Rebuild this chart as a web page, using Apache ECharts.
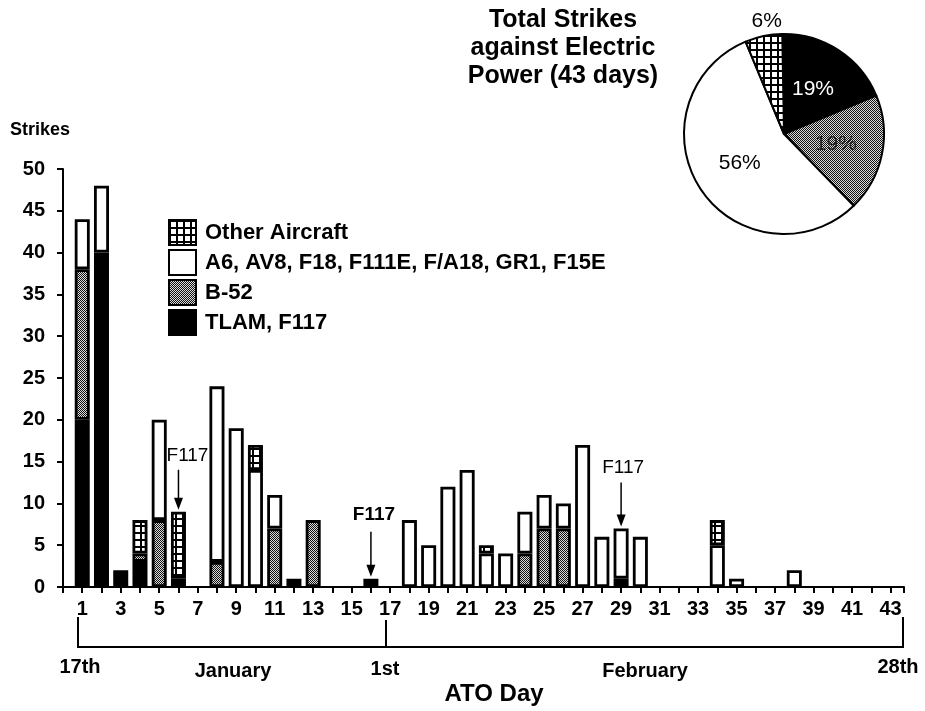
<!DOCTYPE html>
<html><head><meta charset="utf-8">
<script src="https://cdn.jsdelivr.net/npm/echarts@6/dist/echarts.min.js"></script>
<style>html,body{margin:0;padding:0;background:#fff}#c{width:925px;height:711px}</style>
</head><body><div id="c"></div>
<script>
// ---------- data ----------
const days = [1,2,3,4,5,6,7,8,9,10,11,12,13,14,15,16,17,18,19,20,21,22,23,24,25,26,27,28,29,30,31,32,33,34,35,36,37,38,39,40,41,42,43];
const tlamF117 = [20,40,2,3,0,1,0,0,0,0,0,1,0,0,0,1,0,0,0,0,0,0,0,0,0,0,0,0,1,0,0,0,0,0,0,0,0,0,0,0,0,0,0];
const b52      = [18,0,0,1,8,0,0,3,0,0,7,0,8,0,0,0,0,0,0,0,0,0,0,4,7,7,0,0,0,0,0,0,0,0,0,0,0,0,0,0,0,0,0];
const tactical = [6,8,0,0,12,0,0,21,19,14,4,0,0,0,0,0,0,8,5,12,14,4,4,5,4,3,17,6,6,6,0,0,0,5,1,0,0,2,0,0,0,0,0];
const otherAc  = [0,0,0,4,0,8,0,0,0,3,0,0,0,0,0,0,0,0,0,0,0,1,0,0,0,0,0,0,0,0,0,0,0,3,0,0,0,0,0,0,0,0,0];
const seriesNames = ['TLAM, F117','B-52','A6, AV8, F18, F111E, F/A18, GR1, F15E','Other Aircraft'];
const legendOrder = ['Other Aircraft','A6, AV8, F18, F111E, F/A18, GR1, F15E','B-52','TLAM, F117'];
const piePercent = [19,19,56,6];           // TLAM/F117, B-52, tactical, other
const yTicks = [0,5,10,15,20,25,30,35,40,45,50];
const annotDays = [6,16,29];
const annotText = ['F117','F117','F117'];
const pieTitle = ['Total Strikes','against Electric','Power (43 days)'];
const periodLabels = ['17th','January','1st','February','28th'];

// ---------- patterns ----------
function grayPat(){const c=document.createElement('canvas');c.width=c.height=2;const x=c.getContext('2d');
  x.fillStyle='#dcdcdc';x.fillRect(0,0,2,2);x.fillStyle='#111';x.fillRect(0,0,1,1);x.fillRect(1,1,1,1);return c;}
function gridPat(){const c=document.createElement('canvas');c.width=c.height=7;const x=c.getContext('2d');
  x.fillStyle='#fff';x.fillRect(0,0,7,7);x.fillStyle='#000';x.fillRect(0,0,7,2);x.fillRect(0,0,2,7);return c;}
const fills = ['#000',{image:grayPat(),repeat:'repeat'},'#fff',{image:gridPat(),repeat:'repeat'}];
const seriesData = [tlamF117,b52,tactical,otherAc];

const FONT = '"Liberation Sans", Arial, Helvetica, sans-serif';
const chart = echarts.init(document.getElementById('c'), null, {renderer:'canvas'});

// value first so that the stacked dimension is the strike count
const barSeries = seriesData.map((arr,si)=>({
  type:'bar', name:seriesNames[si], stack:'s', barWidth:15,
  encode:{x:1, y:0},
  data: days.map((d,i)=>[arr[i] === 0 ? null : arr[i], d]),
  itemStyle:{color:fills[si], borderColor:'#000', borderWidth:2.8},
  emphasis:{disabled:true}, silent:true
}));

const pieSeries = {
  type:'pie', center:[784,134], radius:100, startAngle:91, clockwise:true,
  avoidLabelOverlap:false, silent:true, emphasis:{disabled:true},
  itemStyle:{borderColor:'#000', borderWidth:2},
  label:{show:true, position:'inside', formatter:'{c}%', fontFamily:FONT, fontSize:21, color:'#000'},
  labelLine:{show:false},
  labelLayout: p => p.dataIndex === 3 ? {x: p.rect.x + p.rect.width/2 + 2, y: p.rect.y - 12, align:'center', verticalAlign:'middle'} : {},
  data: piePercent.map((v,i)=>({
    value:v, name:seriesNames[i],
    itemStyle:{color:fills[i]},
    label: i===0 ? {color:'#fff'} : (i===1 ? {color:'#222'} : (i===3 ? {position:'outside'} : {})),
    labelLine: i===3 ? {show:false, length:4, length2:0} : undefined
  }))
};

chart.setOption({
  animation:false,
  backgroundColor:'#fff',
  grid:{left:63, top:169, width:841, height:418, containLabel:false},
  xAxis:{type:'value', min:0, max:43.7, interval:1,
    axisLine:{show:true, onZero:false, lineStyle:{color:'#000', width:2}},
    axisTick:{show:true, length:6, inside:false, lineStyle:{color:'#000', width:2}},
    axisLabel:{margin:12, color:'#000', fontFamily:FONT, fontWeight:'bold', fontSize:20,
      formatter: v => (Number.isInteger(v) && v % 2 === 1) ? String(v) : ''},
    splitLine:{show:false}},
  yAxis:{type:'value', min:yTicks[0], max:yTicks[yTicks.length-1], interval:yTicks[1]-yTicks[0],
    axisLine:{show:true, lineStyle:{color:'#000', width:2}},
    axisTick:{show:true, length:6, lineStyle:{color:'#000', width:2}},
    axisLabel:{margin:18, color:'#000', fontFamily:FONT, fontWeight:'bold', fontSize:20},
    splitLine:{show:false}},
  legend:{data:legendOrder, orient:'vertical', left:163, top:214, itemWidth:27, itemHeight:25, itemGap:3,
    selectedMode:false, icon:'rect',
    textStyle:{color:'#000', fontFamily:FONT, fontWeight:'bold', fontSize:22, padding:[0,0,0,4]}},
  series:[...barSeries, pieSeries]
});

// ---------- decorations ----------
const gfx = [];
gfx.push({type:'text', x:10, y:130, style:{text:'Strikes', font:'bold 18px '+FONT, fill:'#000', align:'left', verticalAlign:'middle'}});
pieTitle.forEach((t,i)=>gfx.push({type:'text', x:563, y:20+i*28, style:{text:t, font:'bold 25px '+FONT, fill:'#000', align:'center', verticalAlign:'middle'}}));
// bracket under the axis
gfx.push({type:'polyline', shape:{points:[[78,617],[78,647],[903,647],[903,617]]}, style:{stroke:'#000', lineWidth:2, fill:null}});
gfx.push({type:'line', shape:{x1:386,y1:620,x2:386,y2:647}, style:{stroke:'#000', lineWidth:2}});
const plPos = [[80,667],[233,671],[385,669],[645,671],[898,667]];
periodLabels.forEach((t,i)=>gfx.push({type:'text', x:plPos[i][0], y:plPos[i][1], style:{text:t, font:'bold 20px '+FONT, fill:'#000', align:'center', verticalAlign:'middle'}}));
gfx.push({type:'text', x:494, y:694, style:{text:'ATO Day', font:'bold 24px '+FONT, fill:'#000', align:'center', verticalAlign:'middle'}});
// F117 annotations
const annotStyle = [{len:42, ty:56, tx:9, bold:false},{len:47, ty:64, tx:3, bold:true},{len:46, ty:61, tx:2, bold:false}];
annotDays.forEach((d,k)=>{
  const i = days.indexOf(d);
  const total = tlamF117[i]+b52[i]+tactical[i]+otherAc[i];
  const p = chart.convertToPixel({gridIndex:0}, [d, total]);
  const s = annotStyle[k];
  gfx.push({type:'line', shape:{x1:p[0], y1:p[1]-s.len, x2:p[0], y2:p[1]-12}, style:{stroke:'#000', lineWidth:1.5}});
  gfx.push({type:'polygon', shape:{points:[[p[0]-4.5,p[1]-14],[p[0]+4.5,p[1]-14],[p[0],p[1]-2]]}, style:{fill:'#000'}});
  gfx.push({type:'text', x:p[0]+s.tx, y:p[1]-s.ty, style:{text:annotText[k], font:(s.bold?'bold ':'')+'19px '+FONT, fill:'#000', align:'center', verticalAlign:'middle'}});
});
chart.setOption({graphic: gfx});
</script></body></html>
